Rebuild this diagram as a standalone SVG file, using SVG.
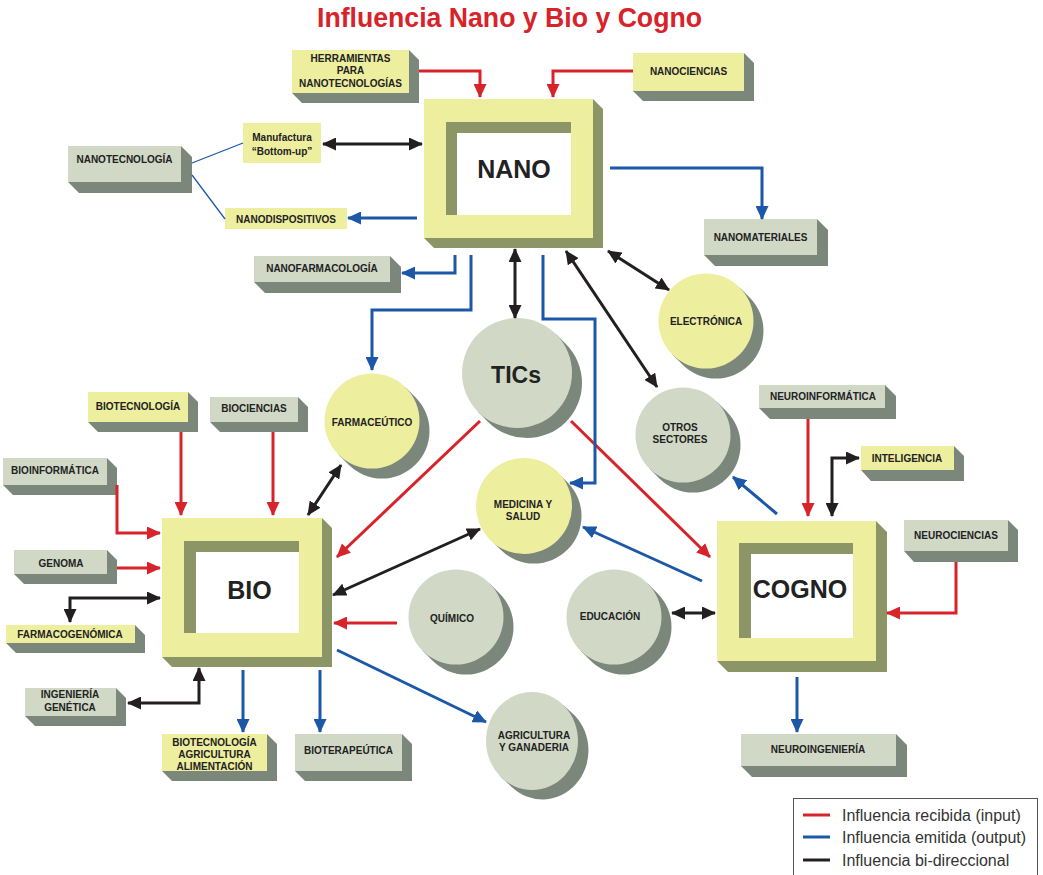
<svg xmlns="http://www.w3.org/2000/svg" width="1043" height="875" viewBox="0 0 1043 875">
  <defs>
    <style>
      .yl { fill: #eeee9f; }
      .gr { fill: #d1d8c6; }
      .sh { fill: #7c877c; }
      .ol { fill: #8c9566; }
      .wh { fill: #ffffff; }
      .t { font-family: "Liberation Sans", Arial, sans-serif; font-weight: bold; font-size: 10px; fill: #222; text-anchor: middle; }
      .big { font-size: 25px; }
      .tic { font-size: 23px; }
      .title { font-family: "Liberation Sans", Arial, sans-serif; font-weight: bold; font-size: 27px; fill: #d8232a; text-anchor: middle; }
      .lg { font-family: "Liberation Sans", Arial, sans-serif; font-size: 16px; fill: #333; }
      .r { fill: none; stroke: #d8232a; stroke-width: 3; marker-end: url(#ar); }
      .b { fill: none; stroke: #1c57a8; stroke-width: 3; marker-end: url(#ab); }
      .k { fill: none; stroke: #231f20; stroke-width: 3; marker-start: url(#ak); marker-end: url(#ak); }
      .thin { fill: none; stroke: #1c57a8; stroke-width: 1.3; }
    </style>
    <marker id="ar" viewBox="0 0 14 13" refX="13" refY="6.5" markerWidth="14" markerHeight="13" markerUnits="userSpaceOnUse" orient="auto-start-reverse">
      <path d="M0,0 L14,6.5 L0,13 Z" fill="#d8232a"/>
    </marker>
    <marker id="ab" viewBox="0 0 14 13" refX="13" refY="6.5" markerWidth="14" markerHeight="13" markerUnits="userSpaceOnUse" orient="auto-start-reverse">
      <path d="M0,0 L14,6.5 L0,13 Z" fill="#1c57a8"/>
    </marker>
    <marker id="ak" viewBox="0 0 14 13" refX="13" refY="6.5" markerWidth="14" markerHeight="13" markerUnits="userSpaceOnUse" orient="auto-start-reverse">
      <path d="M0,0 L14,6.5 L0,13 Z" fill="#231f20"/>
    </marker>
    <!-- extruded shadow for a circle of radius 47.5, centred at the origin -->
    <path id="csh" d="M33.6,-33.6 L43.6,-23.6 A47.5,47.5 0 0 1 -23.6,43.6 L-33.6,33.6 Z"/>
  </defs>

  <rect width="1043" height="875" fill="#fff"/>

  <text class="title" x="509.5" y="27" textLength="385" lengthAdjust="spacingAndGlyphs">Influencia Nano y Bio y Cogno</text>

  <!-- ===== NANO cluster ===== -->
  <g id="nano">
    <polygon class="ol" points="593,99 603,109 603,248 434,248 424,238"/>
    <rect class="yl" x="424" y="99" width="169" height="139"/>
    <rect class="ol" x="446" y="122" width="125" height="93"/>
    <rect class="wh" x="457" y="133" width="114" height="82"/>
    <text class="t big" x="514" y="178">NANO</text>
  </g>
  <g id="herramientas">
    <polygon class="sh" points="409,50 419,60 419,103 302,103 292,93"/>
    <rect class="yl" x="292" y="50" width="117" height="43"/>
    <text class="t" x="350.5" y="61.5">HERRAMIENTAS</text>
    <text class="t" x="350.5" y="74">PARA</text>
    <text class="t" x="350.5" y="86.5">NANOTECNOLOGÍAS</text>
  </g>
  <g id="nanociencias">
    <polygon class="sh" points="744,53 754,63 754,101 643,101 633,91"/>
    <rect class="yl" x="633" y="53" width="111" height="38"/>
    <text class="t" x="688.5" y="75">NANOCIENCIAS</text>
  </g>
  <g id="manufactura">
    <rect class="yl" x="243" y="123" width="78" height="40"/>
    <text class="t" x="282" y="140.5">Manufactura</text>
    <text class="t" x="282" y="154.5">“Bottom-up”</text>
  </g>
  <g id="nanotecnologia">
    <polygon class="sh" points="181,146 192,157 192,193 79,193 68,182"/>
    <rect class="gr" x="68" y="146" width="113" height="36"/>
    <text class="t" x="124.5" y="162.5">NANOTECNOLOGÍA</text>
  </g>
  <g id="nanodispositivos">
    <rect class="yl" x="225" y="208" width="122" height="21"/>
    <text class="t" x="286" y="222.5">NANODISPOSITIVOS</text>
  </g>
  <g id="nanofarmacologia">
    <polygon class="sh" points="390,256 401,267 401,293 265,293 254,282"/>
    <rect class="gr" x="254" y="256" width="136" height="26"/>
    <text class="t" x="322" y="272">NANOFARMACOLOGÍA</text>
  </g>
  <g id="nanomateriales">
    <polygon class="sh" points="817,219 828,230 828,266 715,266 704,255"/>
    <rect class="gr" x="704" y="219" width="113" height="36"/>
    <text class="t" x="760.5" y="240.5">NANOMATERIALES</text>
  </g>

  <!-- ===== circles ===== -->
  <g id="electronica">
    <use href="#csh" class="sh" transform="translate(706,321)"/>
    <circle class="yl" cx="706" cy="321" r="47.5"/>
    <text class="t" x="706" y="325">ELECTRÓNICA</text>
  </g>
  <g id="tics">
    <path class="sh" transform="translate(517,373)" d="M38.9,-38.9 L48.9,-28.9 A55,55 0 0 1 -28.9,48.9 L-38.9,38.9 Z"/>
    <circle class="gr" cx="517" cy="373" r="55"/>
    <text class="t tic" x="516" y="383">TICs</text>
  </g>
  <g id="otros-sectores">
    <use href="#csh" class="sh" transform="translate(683,435)"/>
    <circle class="gr" cx="683" cy="435" r="47.5"/>
    <text class="t" x="680" y="430.5">OTROS</text>
    <text class="t" x="680" y="442.5">SECTORES</text>
  </g>
  <g id="farmaceutico">
    <use href="#csh" class="sh" transform="translate(372,421)"/>
    <circle class="yl" cx="372" cy="421" r="47.5"/>
    <text class="t" x="372" y="425.5">FARMACEÚTICO</text>
  </g>
  <g id="medicina">
    <use href="#csh" class="sh" transform="translate(524,506)"/>
    <circle class="yl" cx="524" cy="506" r="48"/>
    <text class="t" x="523" y="507.5">MEDICINA Y</text>
    <text class="t" x="523" y="519.5">SALUD</text>
  </g>
  <g id="quimico">
    <use href="#csh" class="sh" transform="translate(456,617)"/>
    <circle class="gr" cx="456" cy="617" r="47.5"/>
    <text class="t" x="452" y="621.5">QUÍMICO</text>
  </g>
  <g id="educacion">
    <use href="#csh" class="sh" transform="translate(614,617)"/>
    <circle class="gr" cx="614" cy="617" r="47.5"/>
    <text class="t" x="610" y="619.5">EDUCACIÓN</text>
  </g>
  <g id="agricultura">
    <path class="sh" transform="translate(532,741)" d="M31.5,-35.7 L42.5,-25.7 A46,49 0 0 1 -20.5,45.7 L-31.5,35.7 Z"/>
    <ellipse class="gr" cx="532" cy="741" rx="46" ry="49"/>
    <text class="t" x="534" y="738.5">AGRICULTURA</text>
    <text class="t" x="534" y="750.5">Y GANADERIA</text>
  </g>

  <!-- ===== BIO cluster ===== -->
  <g id="bio">
    <polygon class="ol" points="322,518 332,528 332,667 172,667 162,657"/>
    <rect class="yl" x="162" y="518" width="160" height="139"/>
    <rect class="ol" x="184" y="541" width="115" height="92"/>
    <rect class="wh" x="196" y="552" width="103" height="81"/>
    <text class="t big" x="249.5" y="599">BIO</text>
  </g>
  <g id="biotecnologia">
    <polygon class="sh" points="188,392 198,402 198,432 98,432 88,422"/>
    <rect class="yl" x="88" y="392" width="100" height="30"/>
    <text class="t" x="138" y="409.5">BIOTECNOLOGÍA</text>
  </g>
  <g id="biociencias">
    <polygon class="sh" points="298,397 308,407 308,432 220,432 210,422"/>
    <rect class="gr" x="210" y="397" width="88" height="25"/>
    <text class="t" x="254" y="411.5">BIOCIENCIAS</text>
  </g>
  <g id="bioinformatica">
    <polygon class="sh" points="107,458 117,468 117,495 13,495 3,485"/>
    <rect class="gr" x="3" y="458" width="104" height="27"/>
    <text class="t" x="55" y="473.5">BIOINFORMÁTICA</text>
  </g>
  <g id="genoma">
    <polygon class="sh" points="107,550 117,560 117,584 24,584 14,574"/>
    <rect class="gr" x="14" y="550" width="93" height="24"/>
    <text class="t" x="61" y="566.5">GENOMA</text>
  </g>
  <g id="farmacogenomica">
    <polygon class="sh" points="135,625 145,635 145,653 16,653 6,643"/>
    <rect class="yl" x="6" y="625" width="129" height="18"/>
    <text class="t" x="70" y="637.5">FARMACOGENÓMICA</text>
  </g>
  <g id="ingenieria-genetica">
    <polygon class="sh" points="116,688 126,698 126,726 35,726 25,716"/>
    <rect class="gr" x="25" y="688" width="91" height="28"/>
    <text class="t" x="70" y="697.5">INGENIERÍA</text>
    <text class="t" x="70" y="710.5">GENÉTICA</text>
  </g>
  <g id="biotec-agri-alim">
    <polygon class="sh" points="267,734 277,744 277,781 172,781 162,771"/>
    <rect class="yl" x="162" y="734" width="105" height="37"/>
    <text class="t" x="214.5" y="745.5">BIOTECNOLOGÍA</text>
    <text class="t" x="214.5" y="757.5">AGRICULTURA</text>
    <text class="t" x="214.5" y="769.5">ALIMENTACIÓN</text>
  </g>
  <g id="bioterapeutica">
    <polygon class="sh" points="402,734 412,744 412,781 305,781 295,771"/>
    <rect class="gr" x="295" y="734" width="107" height="37"/>
    <text class="t" x="348.5" y="753.5">BIOTERAPEÚTICA</text>
  </g>

  <!-- ===== COGNO cluster ===== -->
  <g id="cogno">
    <polygon class="ol" points="876,521 887,532 887,672 728,672 717,661"/>
    <rect class="yl" x="717" y="521" width="159" height="140"/>
    <rect class="ol" x="739" y="543" width="114" height="95"/>
    <rect class="wh" x="751" y="554" width="102" height="84"/>
    <text class="t big" x="800" y="598">COGNO</text>
  </g>
  <g id="neuroinformatica">
    <polygon class="sh" points="885,385 896,396 896,419 770,419 759,408"/>
    <rect class="gr" x="759" y="385" width="126" height="23"/>
    <text class="t" x="823" y="399.5">NEUROINFORMÁTICA</text>
  </g>
  <g id="inteligencia">
    <polygon class="sh" points="954,446 964,456 964,481 871,481 861,470"/>
    <rect class="yl" x="861" y="446" width="93" height="24"/>
    <text class="t" x="907" y="461.5">INTELIGENCIA</text>
  </g>
  <g id="neurociencias">
    <polygon class="sh" points="1008,520 1018,530 1018,562 914,562 904,551"/>
    <rect class="gr" x="904" y="520" width="104" height="31"/>
    <text class="t" x="956" y="538.5">NEUROCIENCIAS</text>
  </g>
  <g id="neuroingenieria">
    <polygon class="sh" points="896,734 907,745 907,777 752,777 741,766"/>
    <rect class="gr" x="741" y="734" width="155" height="32"/>
    <text class="t" x="818" y="752.5">NEUROINGENIERÍA</text>
  </g>

  <!-- ===== connectors ===== -->
  <g id="connectors">
    <!-- received influence -->
    <path class="r" d="M419,71 H480 V97"/>
    <path class="r" d="M633,71 H553 V97"/>
    <path class="r" d="M181,432 V515"/>
    <path class="r" d="M273,432 V515"/>
    <path class="r" d="M117,485 V533 H160"/>
    <path class="r" d="M117,568 H160"/>
    <path class="r" d="M397,623 H334"/>
    <path class="r" d="M480,421 L337,557"/>
    <path class="r" d="M571,421 L710,557"/>
    <path class="r" d="M808,419 V516"/>
    <path class="r" d="M956,562 V613 H887"/>
    <!-- emitted influence -->
    <path class="b" d="M417,218 H348"/>
    <path class="b" d="M610,168 H762 V219"/>
    <path class="b" d="M455,255 V273 H402"/>
    <path class="b" d="M471,255 V310 H372 V370"/>
    <path class="b" d="M543,255 V319 H595 V483 H570"/>
    <path class="b" d="M243,670 V732"/>
    <path class="b" d="M320,670 V732"/>
    <path class="b" d="M337,650 L486,722"/>
    <path class="b" d="M777,514 L733,477"/>
    <path class="b" d="M702,581 L583,527"/>
    <path class="b" d="M797,677 V732"/>
    <!-- two-way influence -->
    <path class="k" d="M323,144 H422"/>
    <path class="k" d="M608,251 L669,290"/>
    <path class="k" d="M566,251 L657,387"/>
    <path class="k" d="M515,249 V318"/>
    <path class="k" d="M341,465 L308,515"/>
    <path class="k" d="M333,595 L480,529"/>
    <path class="k" d="M160,598 H70 V622"/>
    <path class="k" d="M128,703 H199 V668"/>
    <path class="k" d="M832,516 V458 H859"/>
    <path class="k" d="M672,613 H715"/>
    <!-- NANOTECNOLOGÍA grouping lines -->
    <path class="thin" d="M192,163 L243,143"/>
    <path class="thin" d="M192,175 L225,219"/>
  </g>

  <!-- ===== legend ===== -->
  <g id="legend">
    <rect x="793.5" y="798.5" width="244" height="90" fill="#fff" stroke="#555" stroke-width="1"/>
    <line x1="803" y1="815" x2="830" y2="815" stroke="#d8232a" stroke-width="3"/>
    <line x1="803" y1="837" x2="830" y2="837" stroke="#1c57a8" stroke-width="3"/>
    <line x1="803" y1="860" x2="830" y2="860" stroke="#231f20" stroke-width="3"/>
    <text class="lg" x="842" y="820.5">Influencia recibida (input)</text>
    <text class="lg" x="842" y="843">Influencia emitida (output)</text>
    <text class="lg" x="842" y="865.5">Influencia bi-direccional</text>
  </g>
</svg>
